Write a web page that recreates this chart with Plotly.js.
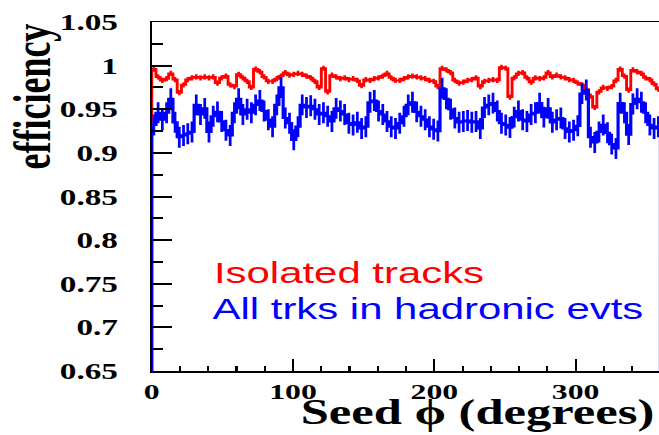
<!DOCTYPE html>
<html><head><meta charset="utf-8">
<script src="https://cdn.plot.ly/plotly-3.0.1.min.js"></script>
<style>
html,body{margin:0;padding:0;overflow:hidden;background:#fff;width:659px;height:435px}
#chart{width:457px;height:435px;transform:scaleX(1.4452);transform-origin:0 0}
</style></head><body><div id="chart"></div>
<script>
// Bin edges: 0..360 degrees, 3-degree bins
const binWidth = 3;
const isolatedEff = [
0.996,0.987,0.983,0.985,0.991,0.984,0.969,0.978,0.984,0.986,
0.987,0.986,0.987,0.986,0.987,0.980,0.986,0.988,0.978,0.976,
0.990,0.986,0.982,0.975,0.996,0.993,0.987,0.982,0.982,0.985,
0.988,0.992,0.989,0.990,0.991,0.990,0.988,0.986,0.982,0.975,
0.997,0.970,0.989,0.987,0.985,0.986,0.984,0.985,0.983,0.977,
0.984,0.983,0.985,0.986,0.988,0.991,0.986,0.983,0.983,0.985,
0.987,0.988,0.987,0.986,0.985,0.983,0.982,0.976,0.997,0.995,
0.992,0.983,0.980,0.981,0.983,0.984,0.986,0.976,0.982,0.983,
0.984,0.983,0.998,0.997,0.964,0.986,0.991,0.992,0.986,0.981,
0.986,0.985,0.986,0.992,0.987,0.989,0.987,0.986,0.984,0.983,
0.980,0.978,0.973,0.965,0.952,0.970,0.975,0.974,0.976,0.983,
0.996,0.988,0.972,0.995,0.993,0.991,0.986,0.984,0.979,0.973];
const hadronicEff = [
0.932,0.946,0.938,0.946,0.962,0.935,0.918,0.920,0.922,0.924,
0.955,0.944,0.951,0.924,0.942,0.947,0.936,0.926,0.920,0.946,
0.962,0.944,0.950,0.946,0.955,0.960,0.948,0.938,0.930,0.955,
0.975,0.940,0.934,0.915,0.930,0.955,0.952,0.954,0.950,0.944,
0.946,0.942,0.936,0.951,0.948,0.944,0.934,0.932,0.935,0.928,
0.930,0.958,0.960,0.948,0.944,0.936,0.930,0.928,0.934,0.942,
0.955,0.958,0.947,0.942,0.938,0.930,0.927,0.925,0.974,0.962,
0.950,0.940,0.935,0.936,0.937,0.935,0.936,0.928,0.952,0.955,
0.957,0.948,0.934,0.932,0.929,0.941,0.948,0.938,0.936,0.944,
0.946,0.957,0.941,0.951,0.935,0.938,0.940,0.928,0.924,0.926,
0.931,0.968,0.972,0.918,0.912,0.924,0.932,0.923,0.910,0.905,
0.957,0.946,0.921,0.956,0.962,0.958,0.946,0.932,0.928,0.930];
const isolatedErr = 0.003;
const hadronicErr = 0.012;
const legendLabels = ['Isolated tracks', 'All trks in hadronic evts'];
const yTickVals = [0.65,0.7,0.75,0.8,0.85,0.9,0.95,1,1.05];
const yTickText = ['0.65','0.7','0.75','0.8','0.85','0.9','0.95','1','1.05'];
const xTickVals = [0,100,200,300];
const xTickText = ['0','100','200','300'];
const yMin = 0.65, yMax = 1.05, xMin = 0, xMax = 360;
const PAD = '\u00a0\u00a0\u00a0';

function stepXY(vals){
  const xs=[xMin], ys=[yMin];
  vals.forEach((v,i)=>{xs.push(xMin+i*binWidth); ys.push(v);});
  xs.push(xMin+vals.length*binWidth); ys.push(vals[vals.length-1]);
  xs.push(xMin+vals.length*binWidth); ys.push(yMin);
  return {xs,ys};
}
function centers(vals){ return vals.map((v,i)=>xMin+(i+0.5)*binWidth); }

const RED='#ff0000', BLUE='#0000ff';
const r = stepXY(isolatedEff), b = stepXY(hadronicEff);
const traces = [
 {x:r.xs,y:r.ys,mode:'lines',line:{shape:'hv',color:RED,width:2},hoverinfo:'skip'},
 {x:centers(isolatedEff),y:isolatedEff,mode:'markers',marker:{size:0.1,color:RED},
  error_y:{type:'constant',value:isolatedErr,color:RED,thickness:1.8,width:0},hoverinfo:'skip'},
 {x:b.xs,y:b.ys,mode:'lines',line:{shape:'hv',color:BLUE,width:2.2},hoverinfo:'skip'},
 {x:centers(hadronicEff),y:hadronicEff,mode:'markers',marker:{size:0.1,color:BLUE},
  error_y:{type:'constant',value:hadronicErr,color:BLUE,thickness:1.9,width:0},hoverinfo:'skip'}
];
const tickFont={family:'Liberation Serif, Times New Roman, serif',size:22,color:'#000',weight:700};
const layout={
 width:457,height:435,
 margin:{l:105,r:0,t:22,b:64,pad:0},
 paper_bgcolor:'#fff',plot_bgcolor:'#fff',showlegend:false,
 xaxis:{range:[xMin,xMax],tickmode:'array',tickvals:xTickVals,ticktext:xTickText,
  ticks:'inside',ticklen:12,tickwidth:1.5,tickcolor:'#000',
  showline:true,linecolor:'#000',linewidth:1.5,mirror:true,showgrid:false,zeroline:false,
  tickfont:tickFont,
  minor:{tickmode:'linear',tick0:0,dtick:20,ticks:'inside',ticklen:5,tickwidth:1.5,tickcolor:'#000',showgrid:false}},
 yaxis:{range:[yMin,yMax],tickmode:'array',tickvals:yTickVals,ticktext:yTickText.map(t=>t+PAD),
  ticks:'inside',ticklen:14,tickwidth:2,tickcolor:'#000',
  showline:true,linecolor:'#000',linewidth:1.5,mirror:true,showgrid:false,zeroline:false,
  tickfont:{family:'Liberation Serif, Times New Roman, serif',size:23,color:'#000',weight:700},
  minor:{tickmode:'linear',tick0:0.65,dtick:0.025,ticks:'inside',ticklen:8,tickwidth:2,tickcolor:'#000',showgrid:false}},
 annotations:[
  {text:'efficiency',xref:'paper',yref:'paper',x:-0.2343,xanchor:'center',y:1,yanchor:'top',
   textangle:-90,showarrow:false,font:{family:'Liberation Serif, Times New Roman, serif',size:36,color:'#000',weight:700}},
  {text:'Seed \u03d5 (degrees)',xref:'paper',yref:'paper',x:0.995,xanchor:'right',y:-0.1815,yanchor:'bottom',
   showarrow:false,font:{family:'Liberation Serif, Times New Roman, serif',size:35,color:'#000',weight:700}},
  {text:legendLabels[0],xref:'paper',yref:'paper',x:0.1175,xanchor:'left',y:0.28,yanchor:'middle',
   showarrow:false,font:{family:'Liberation Sans, Arial, sans-serif',size:29,color:RED}},
  {text:legendLabels[1],xref:'paper',yref:'paper',x:0.1135,xanchor:'left',y:0.178,yanchor:'middle',
   showarrow:false,font:{family:'Liberation Sans, Arial, sans-serif',size:29,color:BLUE}}
 ]
};
Plotly.newPlot('chart',traces,layout,{staticPlot:true,displayModeBar:false});
</script></body></html>
